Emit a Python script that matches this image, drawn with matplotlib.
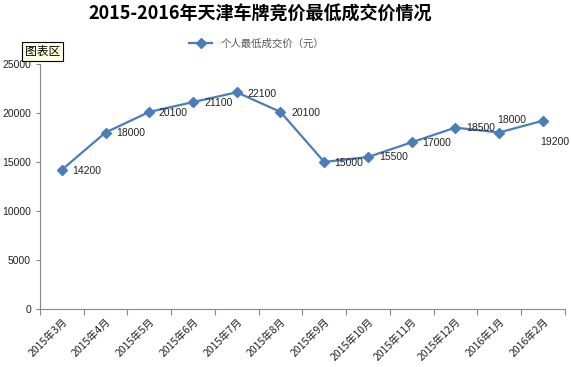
import matplotlib.pyplot as plt
import numpy as np

plt.rcParams['font.family'] = ['Noto Sans CJK SC', 'DejaVu Sans']

months = ['2015年3月', '2015年4月', '2015年5月', '2015年6月', '2015年7月', '2015年8月',
          '2015年9月', '2015年10月', '2015年11月', '2015年12月', '2016年1月', '2016年2月']
prices = [14200, 18000, 20100, 21100, 22100, 20100, 15000, 15500, 17000, 18500, 18000, 19200]

# label placement (pixels): right of point, except last two
label_dx = [10, 11, 9, 11, 11, 11, 10, 11, 11, 11, 13, 12]
label_dy = [-1, 0, -1, -1, -2, -1, -1, 0, -1, 0, 13, -21]
label_ha = ['left'] * 10 + ['center', 'center']

fig = plt.figure(figsize=(5.71, 3.67), dpi=100)
ax = fig.add_axes([0.070, 0.158, 0.919, 0.668])

x = np.arange(len(months))
ax.plot(x, prices, color='#4a7ebb', linewidth=1.6, marker='D', markersize=5,
        label='个人最低成交价（元）')
for xi, v, dx, dy, ha in zip(x, prices, label_dx, label_dy, label_ha):
    ax.annotate(str(v), (xi, v), xytext=(dx * 0.72, dy * 0.72), textcoords='offset points',
                fontsize=7.5, color='#222222', va='center', ha=ha,
                family=['Liberation Sans', 'DejaVu Sans'])

ax.set_xlim(-0.5, len(months) - 0.5)
ax.set_ylim(0, 25000)
ax.set_yticks(np.arange(0, 25001, 5000))
ax.tick_params(axis='y', labelsize=7.5, length=3, color='#888888', labelcolor='#222222')
for t in ax.get_yticklabels():
    t.set_family(['Liberation Sans', 'DejaVu Sans'])

# tick marks between categories, labels at category centres
ax.set_xticks(np.arange(-0.5, len(months), 1.0))
ax.set_xticklabels([])
ax.set_xticks(x, minor=True)
ax.set_xticklabels(months, minor=True, rotation=45, ha='right', va='top',
                   rotation_mode='anchor', fontsize=7.5, color='#222222')
ax.tick_params(axis='x', which='major', length=4, color='#888888')
ax.tick_params(axis='x', which='minor', length=0, pad=5)

for s in ['top', 'right']:
    ax.spines[s].set_visible(False)
for s in ['left', 'bottom']:
    ax.spines[s].set_color('#888888')

fig.text(0.456, 0.962, '2015-2016年天津车牌竞价最低成交价情况', ha='center', va='center',
         fontsize=13, fontweight='bold')
fig.legend(loc='center', bbox_to_anchor=(0.45, 0.882), frameon=False, fontsize=7.5,
           handlelength=2.2, labelcolor='#555555')

fig.text(0.074, 0.860, '图表区', ha='center', va='center', fontsize=8.5,
         bbox=dict(boxstyle='square,pad=0.25', facecolor='#ffffe1', edgecolor='black', linewidth=0.8))

fig.savefig('out.png', dpi=100)
